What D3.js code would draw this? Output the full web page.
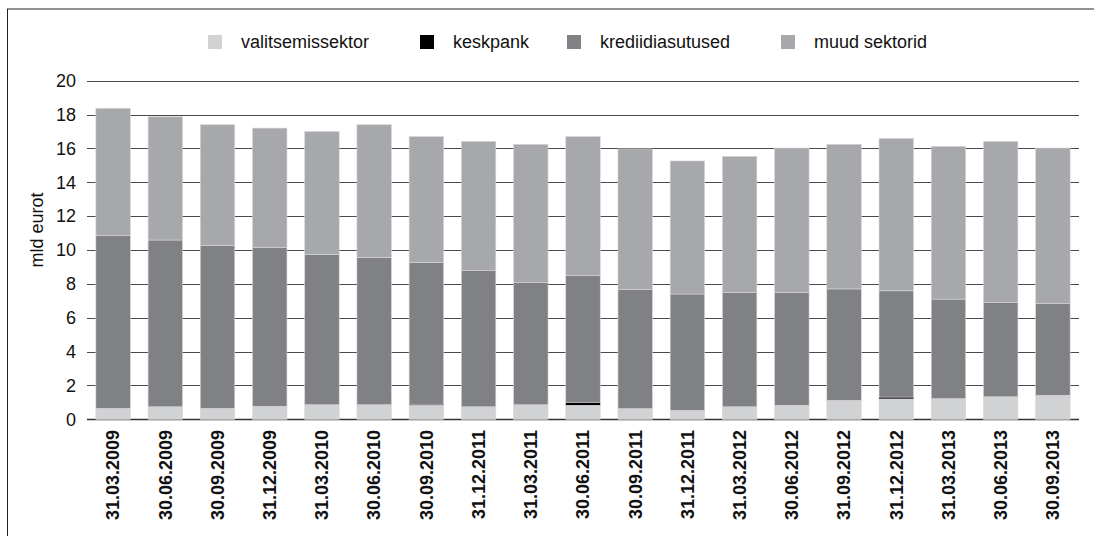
<!DOCTYPE html>
<html>
<head>
<meta charset="utf-8">
<script src="https://cdn.jsdelivr.net/npm/d3@7"></script>
<style>
  html, body { margin: 0; padding: 0; background: #fff; }
  svg { display: block; font-family: "Liberation Sans", Arial, Helvetica, sans-serif; }
</style>
</head>
<body>
<svg id="chart" width="1094" height="536"></svg>
<script>
const categories = ["31.03.2009","30.06.2009","30.09.2009","31.12.2009","31.03.2010","30.06.2010","30.09.2010","31.12.2011","31.03.2011","30.06.2011","30.09.2011","31.12.2011","31.03.2012","30.06.2012","31.09.2012","31.12.2012","31.03.2013","30.06.2013","30.09.2013"];
const valitsemissektor = [0.65,0.74,0.65,0.77,0.86,0.86,0.84,0.74,0.86,0.84,0.63,0.53,0.74,0.83,1.12,1.22,1.22,1.33,1.42];
const keskpank = [0,0,0,0,0,0,0.05,0,0,0.16,0,0,0,0,0,0.09,0,0,0];
const krediidiasutused = [10.20,9.85,9.61,9.39,8.88,8.71,8.38,8.04,7.21,7.50,7.05,6.87,6.74,6.65,6.58,6.28,5.88,5.56,5.41];
const muudSektorid = [7.52,7.28,7.14,7.04,7.26,7.83,7.43,7.64,8.17,8.20,8.29,7.86,8.05,8.54,8.54,9.00,9.02,9.53,9.19];
const seriesNames = ["valitsemissektor","keskpank","krediidiasutused","muud sektorid"];
const seriesColors = ["#d1d2d4","#000000","#808184","#a7a8ab"];
const yTicks = [0,2,4,6,8,10,12,14,16,18,20];
const yTitle = "mld eurot";

const svg = d3.select("#chart");
const W = 1094, H = 536;
const plot = {left: 87, right: 1079, top: 80.7, bottom: 419.3};

// frame (top and left)
svg.append("line").attr("x1", 7).attr("x2", W).attr("y1", 9).attr("y2", 9)
  .attr("stroke", "#222").attr("stroke-width", 1);
svg.append("line").attr("x1", 7.5).attr("x2", 7.5).attr("y1", 9).attr("y2", H)
  .attr("stroke", "#222").attr("stroke-width", 1);

const x = d3.scaleBand().domain(d3.range(categories.length))
  .range([plot.left, plot.right]).paddingInner(0.34).paddingOuter(0.17);
const y = d3.scaleLinear().domain([0, 20]).range([plot.bottom, plot.top]);

// gridlines
const grid = svg.append("g");
grid.selectAll("line").data(yTicks).join("line")
  .attr("x1", plot.left).attr("x2", plot.right)
  .attr("y1", d => Math.round(y(d)) + 0.5).attr("y2", d => Math.round(y(d)) + 0.5)
  .attr("stroke", d => d === 0 ? "#333" : "#4a4a4a").attr("stroke-width", d => d === 0 ? 1.4 : 1.2);

// y axis labels
const yAxis = d3.axisLeft(y).tickValues(yTicks).tickSize(0).tickPadding(0);
const yg = svg.append("g").attr("transform", `translate(${plot.left - 11},0)`).call(yAxis);
yg.select(".domain").remove();
yg.selectAll("text").attr("font-size", 18).attr("fill", "#111")
  .attr("font-family", "Liberation Sans, Arial, sans-serif");

svg.append("text").attr("transform", `translate(${43},${230}) rotate(-90)`)
  .attr("text-anchor", "middle").attr("font-size", 18).attr("fill", "#111").text(yTitle);

// stacked data
const rows = categories.map((c, i) => ({
  i,
  "valitsemissektor": valitsemissektor[i],
  "keskpank": keskpank[i],
  "krediidiasutused": krediidiasutused[i],
  "muud sektorid": muudSektorid[i]
}));
const stacked = d3.stack().keys(seriesNames)(rows);

const bars = svg.append("g");
stacked.forEach((layer, k) => {
  bars.append("g").attr("fill", seriesColors[k])
    .selectAll("rect").data(layer).join("rect")
    .attr("x", d => x(d.data.i))
    .attr("width", x.bandwidth())
    .attr("y", d => y(d[1]))
    .attr("height", d => Math.max(0, y(d[0]) - y(d[1])))
    .attr("stroke", k === 1 ? "none" : "#d6d6d8")
    .attr("stroke-width", k === 1 ? 0 : 0.6);
});

// x labels
const xAxis = d3.axisBottom(x).tickFormat(i => categories[i]).tickSize(0).tickPadding(0);
const xg = svg.append("g").attr("transform", `translate(0,${430})`).call(xAxis);
xg.select(".domain").remove();
xg.selectAll("text")
  .attr("transform", "rotate(-90)")
  .attr("text-anchor", "end")
  .attr("x", 0).attr("y", 0).attr("dy", "0.35em")
  .attr("font-size", 18).attr("font-weight", "bold").attr("fill", "#111")
  .attr("font-family", "Liberation Sans, Arial, sans-serif");

// legend
const legendX = [208, 420, 567, 781];
const lg = svg.append("g");
seriesNames.forEach((name, k) => {
  lg.append("rect").attr("x", legendX[k]).attr("y", 35).attr("width", 14).attr("height", 14)
    .attr("fill", seriesColors[k]);
  lg.append("text").attr("x", legendX[k] + 33).attr("y", 48)
    .attr("font-size", 18).attr("fill", "#111").text(name);
});
</script>
</body>
</html>
